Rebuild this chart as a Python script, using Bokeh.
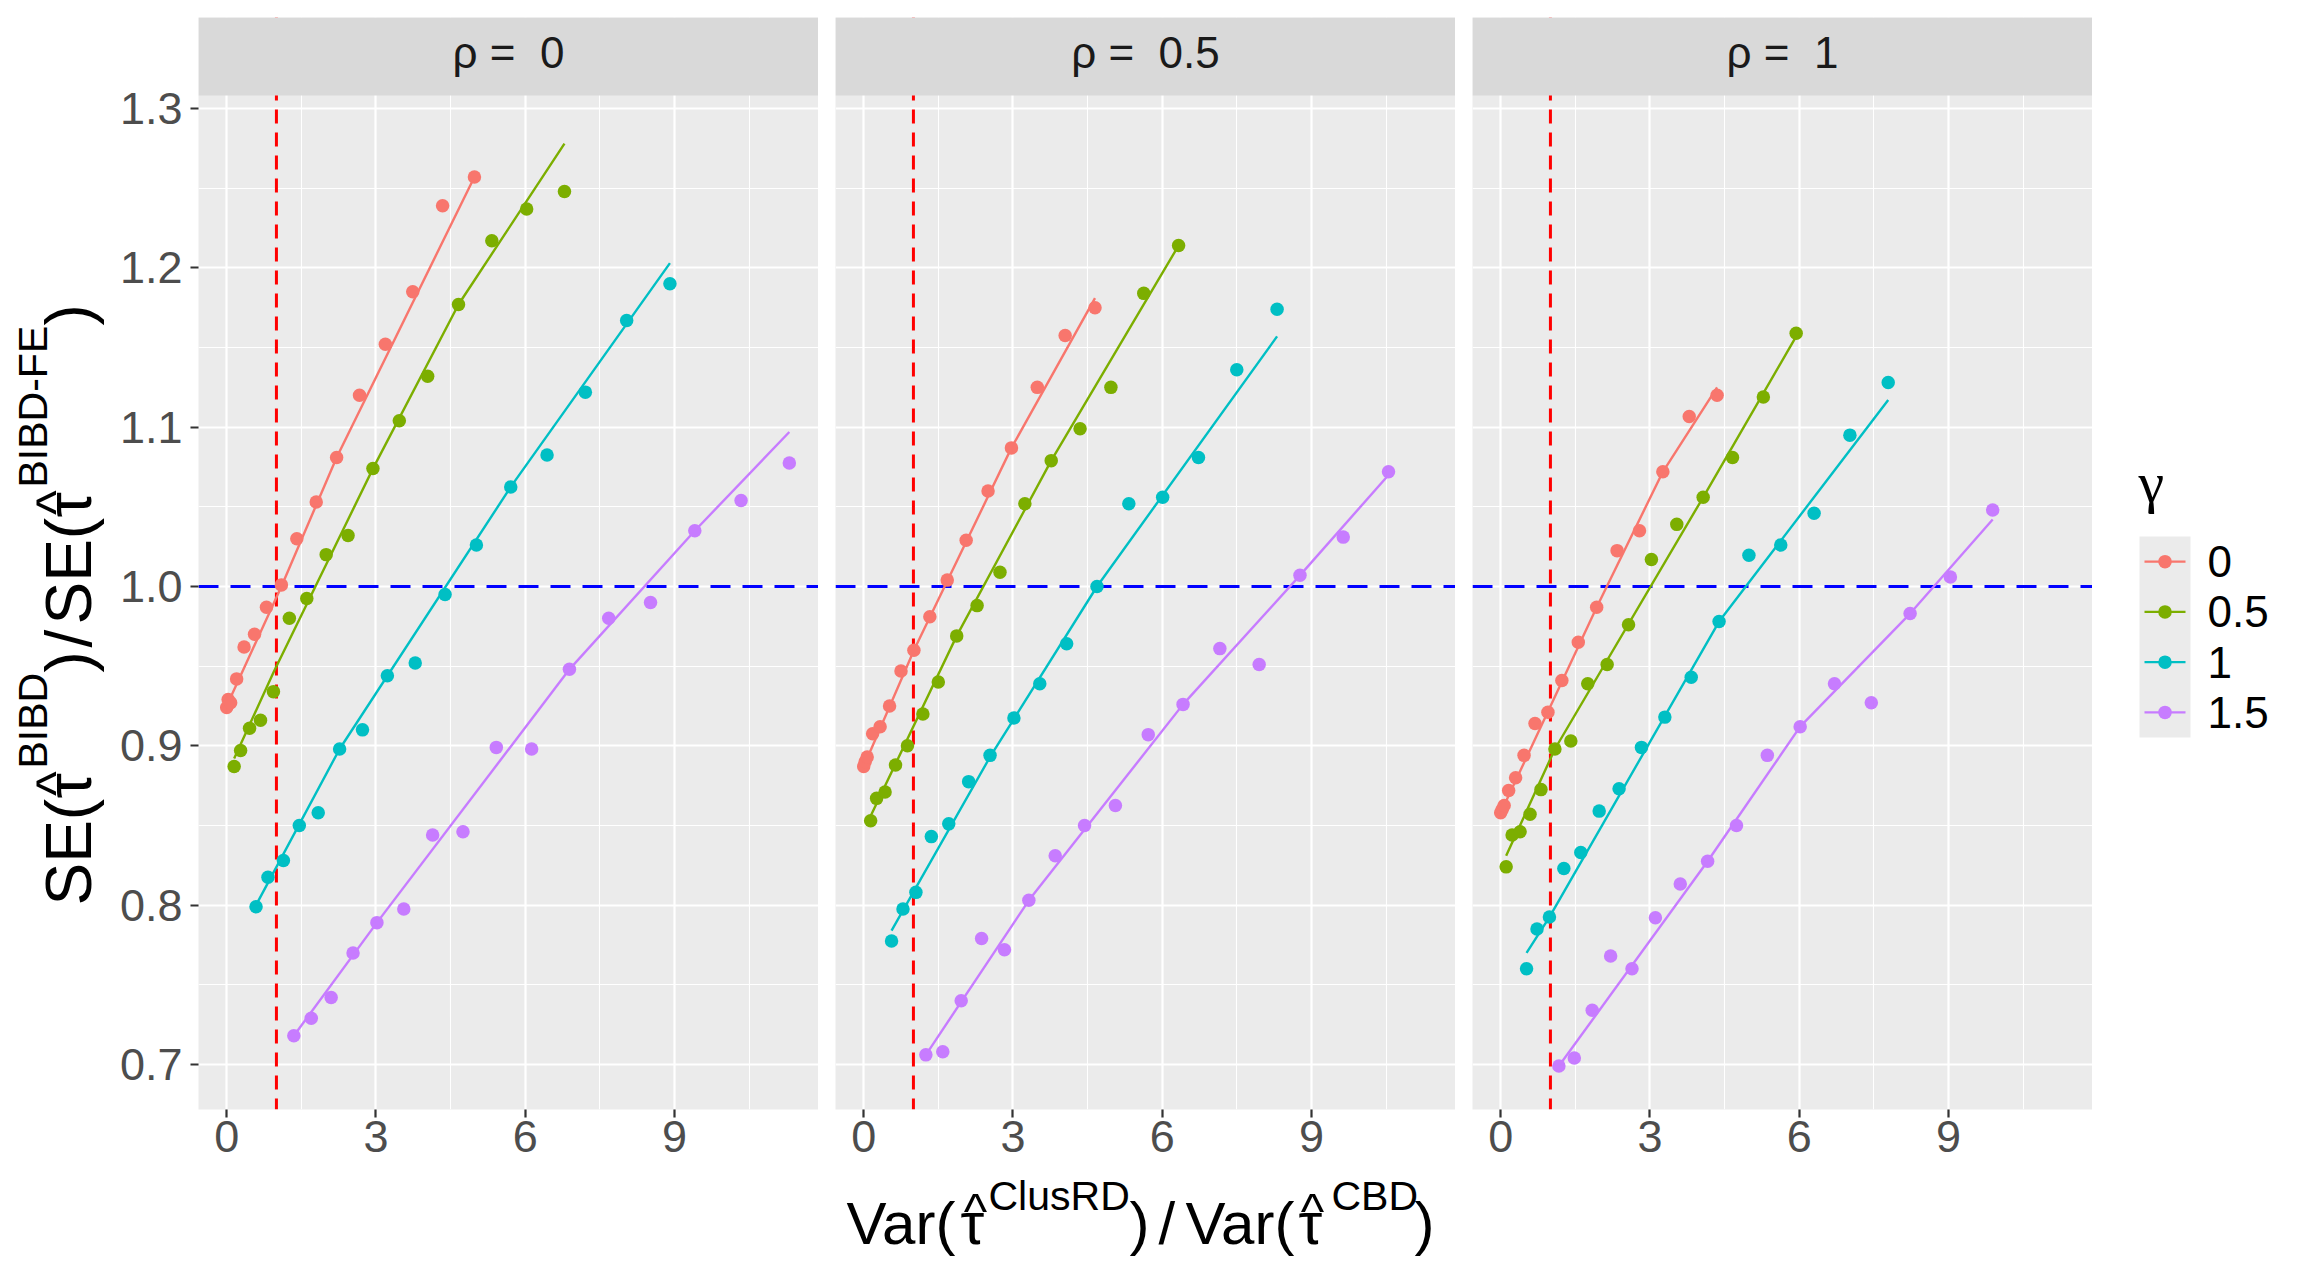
import math
from bokeh.plotting import figure
from bokeh.models import Range1d, FixedTicker, Span, PrintfTickFormatter
from bokeh.layouts import row, column
from bokeh.embed import file_html
from bokeh.resources import INLINE
from bokeh.core.properties import value

# ---------------- data ----------------
rho_levels = ["0", "0.5", "1"]
gamma_levels = ["0", "0.5", "1", "1.5"]
gamma_colors = ["#F8766D", "#7CAE00", "#00BFC4", "#C77CFF"]
x_ticks = [0, 3, 6, 9]
x_minor = [-1.5, 1.5, 4.5, 7.5, 10.5]
y_ticks = [0.7, 0.8, 0.9, 1.0, 1.1, 1.2, 1.3]
y_minor = [0.65, 0.75, 0.85, 0.95, 1.05, 1.15, 1.25]
ref_var_ratio = 1.0   # red dashed vertical line
ref_se_ratio = 1.0    # blue dashed horizontal line

# rho = 0
x_r0_g0 = [0.00, 0.03, 0.08, 0.20, 0.35, 0.56, 0.80, 1.10, 1.41, 1.80, 2.21, 2.67, 3.19, 3.74, 4.34, 4.98]
y_r0_g0 = [0.924, 0.929, 0.927, 0.942, 0.962, 0.970, 0.987, 1.001, 1.030, 1.053, 1.081, 1.120, 1.152, 1.185, 1.239, 1.257]
fx_r0_g0 = [0.00, 1.10, 2.21, 4.98]
fy_r0_g0 = [0.925, 1.000, 1.081, 1.257]

x_r0_g1 = [0.15, 0.28, 0.46, 0.68, 0.94, 1.26, 1.61, 2.00, 2.44, 2.94, 3.47, 4.04, 4.66, 5.33, 6.03, 6.79]
y_r0_g1 = [0.887, 0.897, 0.911, 0.916, 0.934, 0.980, 0.9925, 1.020, 1.032, 1.074, 1.104, 1.132, 1.177, 1.217, 1.237, 1.248]
fx_r0_g1 = [0.15, 0.94, 2.94, 4.66, 6.79]
fy_r0_g1 = [0.892, 0.946, 1.074, 1.177, 1.278]

x_r0_g2 = [0.59, 0.83, 1.14, 1.46, 1.84, 2.27, 2.73, 3.23, 3.79, 4.39, 5.02, 5.71, 6.44, 7.21, 8.04, 8.91]
y_r0_g2 = [0.799, 0.8175, 0.828, 0.850, 0.858, 0.898, 0.910, 0.944, 0.952, 0.995, 1.026, 1.0625, 1.0825, 1.122, 1.167, 1.190]
fx_r0_g2 = [0.59, 2.27, 5.71, 8.91]
fy_r0_g2 = [0.800, 0.898, 1.0625, 1.203]

x_r0_g3 = [1.35, 1.70, 2.10, 2.54, 3.02, 3.56, 4.14, 4.75, 5.42, 6.13, 6.89, 7.68, 8.52, 9.41, 10.34, 11.31]
y_r0_g3 = [0.718, 0.729, 0.742, 0.770, 0.789, 0.7975, 0.844, 0.846, 0.899, 0.898, 0.948, 0.980, 0.990, 1.035, 1.054, 1.0775]
fx_r0_g3 = [1.35, 3.02, 6.89, 9.41, 11.31]
fy_r0_g3 = [0.718, 0.789, 0.948, 1.035, 1.097]

# rho = 0.5
x_r1_g0 = [0.00, 0.03, 0.07, 0.18, 0.33, 0.52, 0.75, 1.01, 1.33, 1.68, 2.06, 2.50, 2.97, 3.49, 4.05, 4.65]
y_r1_g0 = [0.887, 0.890, 0.893, 0.9075, 0.912, 0.925, 0.947, 0.960, 0.981, 1.004, 1.029, 1.060, 1.087, 1.125, 1.1575, 1.175]
fx_r1_g0 = [0.00, 1.01, 2.97, 4.65]
fy_r1_g0 = [0.887, 0.960, 1.087, 1.181]

x_r1_g1 = [0.14, 0.26, 0.43, 0.64, 0.88, 1.19, 1.50, 1.87, 2.28, 2.74, 3.24, 3.77, 4.35, 4.97, 5.63, 6.33]
y_r1_g1 = [0.853, 0.867, 0.871, 0.888, 0.900, 0.920, 0.940, 0.969, 0.988, 1.009, 1.052, 1.079, 1.099, 1.125, 1.184, 1.214]
fx_r1_g1 = [0.14, 1.87, 3.77, 6.33]
fy_r1_g1 = [0.856, 0.969, 1.079, 1.214]

x_r1_g2 = [0.56, 0.79, 1.05, 1.36, 1.71, 2.11, 2.54, 3.02, 3.54, 4.08, 4.69, 5.33, 6.01, 6.73, 7.50, 8.31]
y_r1_g2 = [0.7775, 0.7975, 0.808, 0.843, 0.851, 0.8775, 0.894, 0.9175, 0.939, 0.964, 1.000, 1.052, 1.056, 1.081, 1.136, 1.174]
fx_r1_g2 = [0.56, 2.54, 4.69, 8.31]
fy_r1_g2 = [0.784, 0.893, 1.000, 1.157]

x_r1_g3 = [1.25, 1.59, 1.96, 2.37, 2.83, 3.32, 3.85, 4.44, 5.06, 5.72, 6.42, 7.16, 7.95, 8.77, 9.64, 10.55]
y_r1_g3 = [0.706, 0.708, 0.740, 0.779, 0.772, 0.803, 0.831, 0.850, 0.8625, 0.907, 0.926, 0.961, 0.951, 1.007, 1.031, 1.072]
fx_r1_g3 = [1.25, 3.32, 6.42, 8.77, 10.55]
fy_r1_g3 = [0.706, 0.803, 0.926, 1.007, 1.070]

# rho = 1
x_r2_g0 = [0.00, 0.03, 0.07, 0.16, 0.30, 0.47, 0.69, 0.95, 1.23, 1.56, 1.93, 2.34, 2.79, 3.26, 3.79, 4.35]
y_r2_g0 = [0.858, 0.860, 0.8625, 0.872, 0.880, 0.894, 0.914, 0.921, 0.941, 0.965, 0.987, 1.0225, 1.035, 1.072, 1.1067, 1.120]
fx_r2_g0 = [0.00, 1.93, 3.26, 4.35]
fy_r2_g0 = [0.858, 0.987, 1.072, 1.125]

x_r2_g1 = [0.11, 0.23, 0.39, 0.59, 0.81, 1.09, 1.41, 1.75, 2.14, 2.57, 3.03, 3.54, 4.07, 4.66, 5.28, 5.94]
y_r2_g1 = [0.824, 0.844, 0.846, 0.857, 0.8725, 0.898, 0.903, 0.939, 0.951, 0.976, 1.017, 1.039, 1.056, 1.081, 1.119, 1.159]
fx_r2_g1 = [0.11, 1.09, 4.07, 5.94]
fy_r2_g1 = [0.831, 0.898, 1.056, 1.157]

x_r2_g2 = [0.52, 0.73, 0.98, 1.27, 1.61, 1.98, 2.38, 2.83, 3.30, 3.83, 4.39, 4.99, 5.63, 6.30, 7.02, 7.79]
y_r2_g2 = [0.760, 0.785, 0.7925, 0.823, 0.833, 0.859, 0.873, 0.899, 0.918, 0.943, 0.978, 1.0196, 1.026, 1.046, 1.095, 1.128]
fx_r2_g2 = [0.52, 0.98, 4.39, 7.79]
fy_r2_g2 = [0.770, 0.7925, 0.978, 1.117]

x_r2_g3 = [1.17, 1.48, 1.84, 2.21, 2.64, 3.11, 3.61, 4.16, 4.74, 5.36, 6.02, 6.71, 7.45, 8.23, 9.04, 9.89]
y_r2_g3 = [0.699, 0.704, 0.734, 0.768, 0.760, 0.792, 0.8133, 0.8275, 0.850, 0.894, 0.912, 0.939, 0.927, 0.983, 1.006, 1.048]
fx_r2_g3 = [1.17, 4.16, 6.02, 8.23, 9.89]
fy_r2_g3 = [0.699, 0.8275, 0.912, 0.983, 1.042]

points = [
    [(x_r0_g0, y_r0_g0), (x_r0_g1, y_r0_g1), (x_r0_g2, y_r0_g2), (x_r0_g3, y_r0_g3)],
    [(x_r1_g0, y_r1_g0), (x_r1_g1, y_r1_g1), (x_r1_g2, y_r1_g2), (x_r1_g3, y_r1_g3)],
    [(x_r2_g0, y_r2_g0), (x_r2_g1, y_r2_g1), (x_r2_g2, y_r2_g2), (x_r2_g3, y_r2_g3)],
]
fits = [
    [(fx_r0_g0, fy_r0_g0), (fx_r0_g1, fy_r0_g1), (fx_r0_g2, fy_r0_g2), (fx_r0_g3, fy_r0_g3)],
    [(fx_r1_g0, fy_r1_g0), (fx_r1_g1, fy_r1_g1), (fx_r1_g2, fy_r1_g2), (fx_r1_g3, fy_r1_g3)],
    [(fx_r2_g0, fy_r2_g0), (fx_r2_g1, fy_r2_g1), (fx_r2_g2, fy_r2_g2), (fx_r2_g3, fy_r2_g3)],
]

# ---------------- style ----------------
SANS = "Liberation Sans"
FONT = value(SANS)
X_LIM = (-0.5665, 11.8965)
Y_LIM = (0.6717, 1.3082)
PANEL_W, PANEL_H = 620, 1014
STRIP_H = 78
FRAME_H = PANEL_H + STRIP_H
Y_TOP = Y_LIM[1] + STRIP_H * (Y_LIM[1] - Y_LIM[0]) / PANEL_H  # strip sits above the panel
GAP = 17
LEFT_AXIS = 88
BOTTOM_AXIS = 62
TOP_PAD = 17
YLAB_W = 110
LEG_W = 203
TOTAL_H = 1279
XLAB_H = TOTAL_H - TOP_PAD - FRAME_H - BOTTOM_AXIS
MID = 0.36  # baseline -> "middle" anchor offset, in em


def blank(width, height, x0, y0):
    """figure whose data coordinates equal page pixels (y downward)."""
    f = figure(frame_width=width, frame_height=height, min_border=0,
               x_range=Range1d(x0, x0 + width), y_range=Range1d(y0 + height, y0),
               x_axis_location=None, y_axis_location=None,
               outline_line_color=None, background_fill_color="white",
               border_fill_color="white", output_backend="svg", toolbar_location=None)
    f.grid.visible = False
    return f


panels = []
for i, rho in enumerate(rho_levels):
    first = i == 0
    lb = LEFT_AXIS if first else GAP
    p = figure(frame_width=PANEL_W, frame_height=FRAME_H,
               min_border_left=lb, min_border_right=0, min_border_top=TOP_PAD,
               min_border_bottom=BOTTOM_AXIS,
               x_range=Range1d(*X_LIM), y_range=Range1d(Y_LIM[0], Y_TOP),
               y_axis_location="left" if first else None,
               background_fill_color="#EBEBEB", border_fill_color="white",
               outline_line_color=None, output_backend="svg", toolbar_location=None)
    p.extra_y_ranges = {"strip": Range1d(FRAME_H, 0)}
    p.xgrid.ticker = FixedTicker(ticks=x_ticks, minor_ticks=x_minor)
    p.ygrid.ticker = FixedTicker(ticks=y_ticks, minor_ticks=y_minor)
    p.grid.grid_line_color = "white"
    p.grid.grid_line_width = 2.2
    p.grid.minor_grid_line_color = "white"
    p.grid.minor_grid_line_width = 1.1
    axes = [p.xaxis[0]] + ([p.yaxis[0]] if first else [])
    p.xaxis.ticker = FixedTicker(ticks=x_ticks)
    if first:
        p.yaxis.ticker = FixedTicker(ticks=y_ticks)
        p.yaxis.formatter = PrintfTickFormatter(format="%.1f")
        p.yaxis.major_label_standoff = 8
    p.xaxis.major_label_standoff = 3
    for ax in axes:
        ax.axis_line_color = None
        ax.major_tick_out = 8
        ax.major_tick_in = 0
        ax.minor_tick_out = 0
        ax.minor_tick_in = 0
        ax.major_tick_line_color = "#333333"
        ax.major_tick_line_width = 2.2
        ax.major_label_text_font = SANS
        ax.major_label_text_font_size = "45px"
        ax.major_label_text_color = "#4D4D4D"

    p.add_layout(Span(location=ref_var_ratio, dimension="height", line_color="#FF0000",
                      line_dash="14 9", line_width=3, level="underlay"))
    p.add_layout(Span(location=ref_se_ratio, dimension="width", line_color="#0000FF",
                      line_dash="20 12", line_width=3, level="underlay"))

    for g, col in enumerate(gamma_colors):
        fx, fy = fits[i][g]
        p.line(fx, fy, line_color=col, line_width=2.4)
    for g, col in enumerate(gamma_colors):
        px, py = points[i][g]
        p.scatter(px, py, size=13.5, fill_color=col, line_color=None)

    # facet strip (grey band on top of the panel)
    p.quad(left=X_LIM[0], right=X_LIM[1], top=0, bottom=STRIP_H, y_range_name="strip",
           fill_color="#D9D9D9", line_color=None)
    p.text(x=[(X_LIM[0] + X_LIM[1]) / 2], y=[51 - MID * 44], y_range_name="strip",
           text=["\u03c1 =\u00a0 " + rho], text_align="center", text_baseline="middle",
           text_font=FONT, text_font_size="44px", text_color="#1A1A1A")
    panels.append(p)

# ---------------- y-axis title (rotated, reads upward) ----------------
ylab = blank(YLAB_W, TOTAL_H, 0, 0)
YB, YS, YH = 64, 41, 53          # base, superscript, hat font sizes
yb_x, ys_x, yh_x = 92, 47, 74    # baselines (page x)
y_pieces = [  # text, baseline x, start y, size, align
    ("SE(", yb_x, 905, YB, "left"),
    ("\u03c4", yb_x, 798, YB, "left"),
    ("^", yh_x, 783, YH, "center"),
    ("BIBD", ys_x, 768, YS, "left"),
    (")", yb_x, 672, YB, "left"),
    ("/", yb_x, 647, YB, "left"),
    ("SE(", yb_x, 624, YB, "left"),
    ("\u03c4", yb_x, 517, YB, "left"),
    ("^", yh_x, 502, YH, "center"),
    ("BIBD-FE", ys_x, 487, YS, "left"),
    (")", yb_x, 325, YB, "left"),
]
for t, bx, sy, sz, al in y_pieces:
    ylab.text(x=[bx - MID * sz], y=[sy], text=[t], angle=math.pi / 2, text_align=al,
              text_baseline="middle", text_font=FONT,
              text_font_size=f"{sz}px", text_color="black")

# ---------------- x-axis title ----------------
xlab_x0 = YLAB_W
xlab_y0 = TOP_PAD + FRAME_H + BOTTOM_AXIS
xlab = blank(3 * PANEL_W + 2 * GAP + LEFT_AXIS, XLAB_H, xlab_x0, xlab_y0)
XB, XS, XH = 60, 41, 50
x_pieces = [  # text, x, baseline y, size, align
    ("Var(", 846, 1245, XB, "left"),
    ("\u03c4", 960, 1245, XB, "left"),
    ("^", 975, 1228, XH, "center"),
    ("ClusRD", 988, 1210, XS, "left"),
    (")", 1129, 1245, XB, "left"),
    ("/", 1158, 1245, XB, "left"),
    ("Var(", 1185, 1245, XB, "left"),
    ("\u03c4", 1298, 1245, XB, "left"),
    ("^", 1312, 1228, XH, "center"),
    ("CBD", 1331, 1210, XS, "left"),
    (")", 1414, 1245, XB, "left"),
]
for t, px_, by, sz, al in x_pieces:
    xlab.text(x=[px_], y=[by - MID * sz], text=[t], text_align=al, text_baseline="middle",
              text_font=FONT, text_font_size=f"{sz}px", text_color="black")

# ---------------- legend ----------------
leg_x0 = xlab_x0 + 3 * PANEL_W + 2 * GAP + LEFT_AXIS
leg = blank(LEG_W, TOTAL_H, leg_x0, 0)
leg.text(x=[2138], y=[503 - MID * 58], text=["\u03b3"], text_font=value("Liberation Serif"),
         text_font_size="58px", text_baseline="middle", text_color="black")
key_left, key_right, key_top, key_h = 2139, 2190, 536, 50.25
leg.quad(left=key_left, right=key_right, top=key_top,
         bottom=key_top + key_h * len(gamma_levels), fill_color="#EBEBEB", line_color=None)
for g, (lab, col) in enumerate(zip(gamma_levels, gamma_colors)):
    cy = key_top + key_h * (g + 0.5)
    leg.line([key_left + 5, key_right - 5], [cy, cy], line_color=col, line_width=2.4)
    leg.scatter([(key_left + key_right) / 2], [cy], size=13.5, fill_color=col, line_color=None)
    leg.text(x=[2207], y=[cy], text=[lab], text_baseline="middle", text_font=FONT,
             text_font_size="44px", text_color="black")

layout = row(ylab, column(row(*panels, spacing=0), xlab, spacing=0), leg, spacing=0)

open("out.html", "w").write(file_html(layout, INLINE))
